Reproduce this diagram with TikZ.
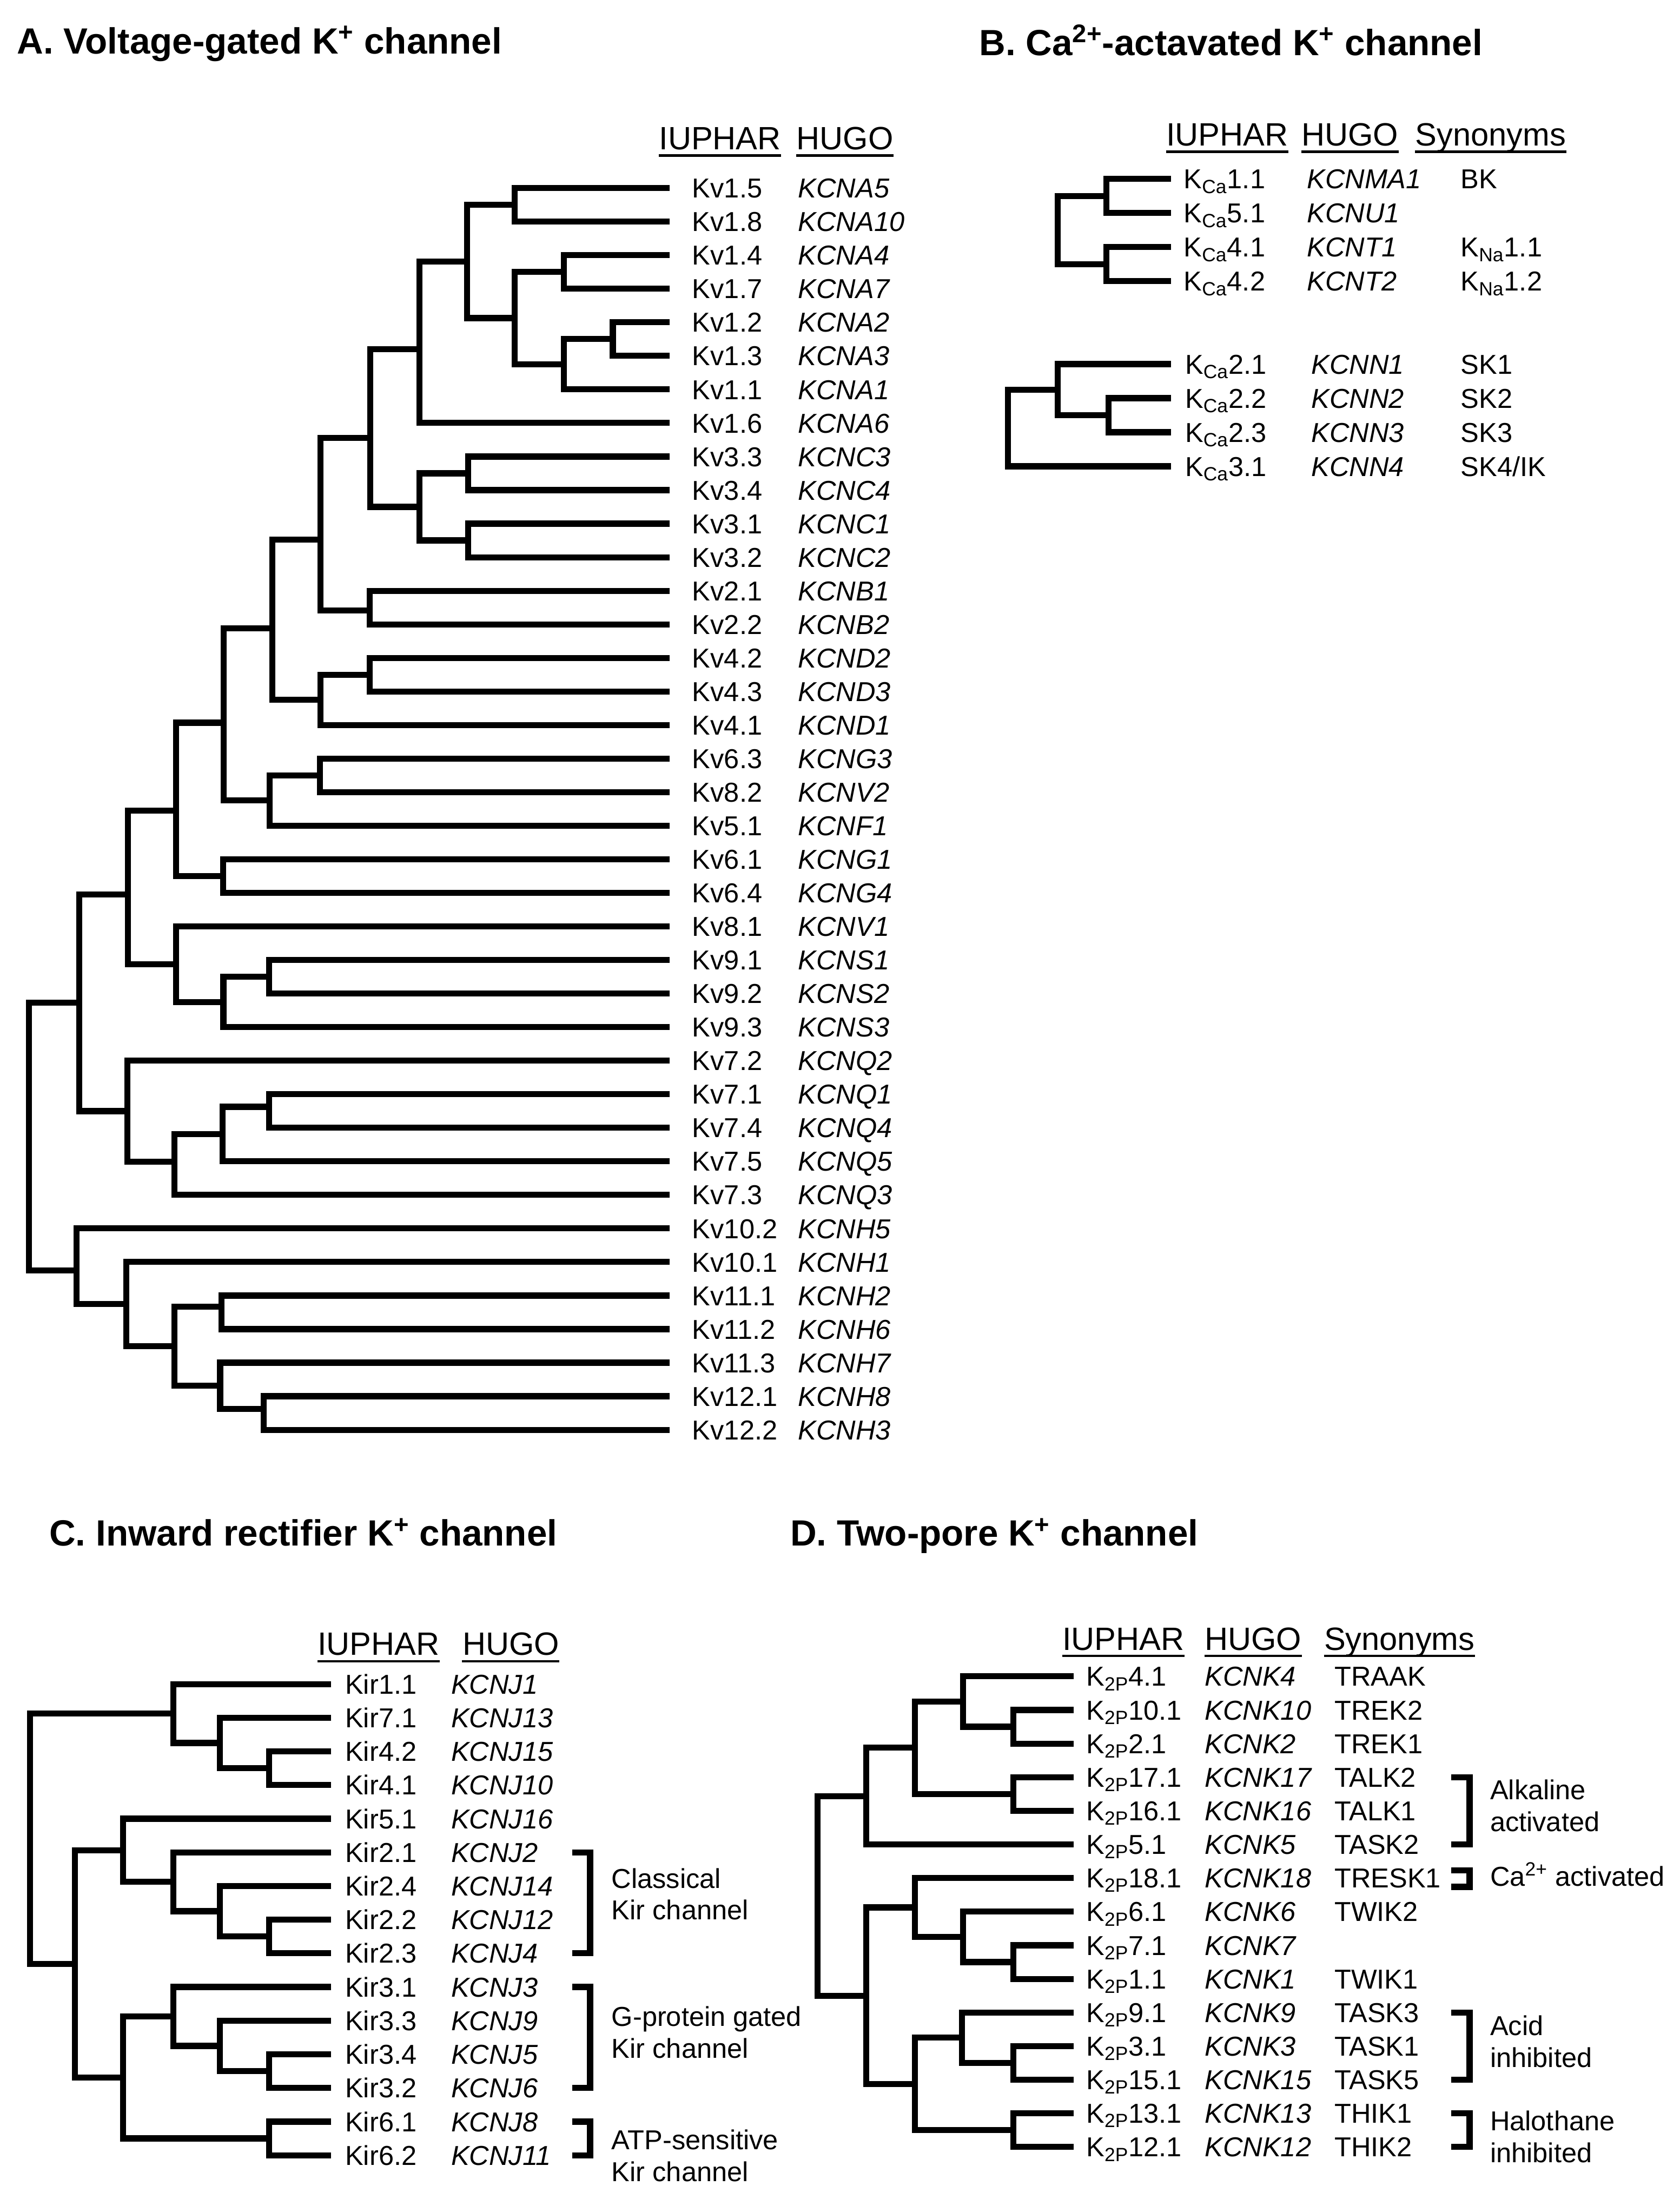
\documentclass[tikz,border=0pt]{standalone}
\usepackage{fontspec}
\setmainfont{Liberation Sans}
\usetikzlibrary{calc}

\tikzset{
  branch/.style={line width=4.3pt},
  brk/.style={line width=4.3pt},
  uline/.style={line width=1.6pt},
  ttl/.style={anchor=base west, inner sep=0pt, font=\fontsize{26}{30}\selectfont\bfseries},
  colhead/.style={anchor=base west, inner sep=0pt, font=\fontsize{23}{27}\selectfont},
  lab/.style={anchor=base west, inner sep=0pt, yshift=-7pt, font=\fontsize{19.5}{22.7}\selectfont},
  gene/.style={lab, font=\fontsize{19.5}{22.7}\selectfont\itshape},
  grp/.style={anchor=west, inner sep=0pt, align=left, font=\fontsize{19.5}{22.7}\selectfont}
}

% junction of a dendrogram: [shift down] name, x, upper child, lower child
\newcommand\joinnode[5][0]{%
  \path let \p1=($(#4)!.5!(#5)$) in (#3pt,{\y1-(#1)}) coordinate (#2);
  \draw[branch] (#4) -| (#2) |- (#5);
}

\begin{document}
\begin{tikzpicture}[x=1pt,y=-1pt]
\useasboundingbox (0,0) rectangle (1197.7,1568);

% titles
\node[ttl] (ta) at (12,38.2) {A. Voltage-gated K\textsuperscript{+} channel};
\node[ttl] (tb) at (698.2,39.4) {B. Ca\textsuperscript{2+}-actavated K\textsuperscript{+} channel};
\node[ttl] (tc) at (35,1102.4) {C. Inward rectifier K\textsuperscript{+} channel};
\node[ttl] (td) at (563.4,1102.4) {D. Two-pore K\textsuperscript{+} channel};

% column heads
\node[colhead] (ha1) at (469.8,106.7) {IUPHAR};
\node[colhead] (ha2) at (567.8,106.7) {HUGO};
\node[colhead] (hb1) at (831.5,104) {IUPHAR};
\node[colhead] (hb2) at (928,104) {HUGO};
\node[colhead] (hb3) at (1009.2,104) {Synonyms};
\node[colhead] (hc1) at (226.3,1180.3) {IUPHAR};
\node[colhead] (hc2) at (329.6,1180.3) {HUGO};
\node[colhead] (hd1) at (757.4,1176.5) {IUPHAR};
\node[colhead] (hd2) at (858.9,1176.5) {HUGO};
\node[colhead] (hd3) at (944.1,1176.5) {Synonyms};
\foreach \h in {ha1,ha2,hb1,hb2,hb3,hc1,hc2,hd1,hd2,hd3}
  \draw[uline] ([yshift=-4.2pt]\h.base west) -- ([yshift=-4.2pt]\h.base east);

% A. voltage-gated
\foreach \iu/\hg [count=\i from 0] in {Kv1.5/KCNA5, Kv1.8/KCNA10, Kv1.4/KCNA4,
  Kv1.7/KCNA7, Kv1.2/KCNA2, Kv1.3/KCNA3, Kv1.1/KCNA1, Kv1.6/KCNA6, Kv3.3/KCNC3,
  Kv3.4/KCNC4, Kv3.1/KCNC1, Kv3.2/KCNC2, Kv2.1/KCNB1, Kv2.2/KCNB2, Kv4.2/KCND2,
  Kv4.3/KCND3, Kv4.1/KCND1, Kv6.3/KCNG3, Kv8.2/KCNV2, Kv5.1/KCNF1, Kv6.1/KCNG1,
  Kv6.4/KCNG4, Kv8.1/KCNV1, Kv9.1/KCNS1, Kv9.2/KCNS2, Kv9.3/KCNS3, Kv7.2/KCNQ2,
  Kv7.1/KCNQ1, Kv7.4/KCNQ4, Kv7.5/KCNQ5, Kv7.3/KCNQ3, Kv10.2/KCNH5, Kv10.1/KCNH1,
  Kv11.1/KCNH2, Kv11.2/KCNH6, Kv11.3/KCNH7, Kv12.1/KCNH8, Kv12.2/KCNH3}
{
  \coordinate (a\i) at (477.5,134.1+23.93*\i);
  \node[lab] (aiu\i) at (493.5,134.1+23.93*\i) {\iu};
  \node[gene] (ahg\i) at (569,134.1+23.93*\i) {\hg};
}
\joinnode{ja1}{367}{a0}{a1}
\joinnode{ja2}{402}{a2}{a3}
\joinnode{ja3}{437}{a4}{a5}
\joinnode{ja4}{402}{ja3}{a6}
\joinnode{ja5}{367}{ja2}{ja4}
\joinnode{ja6}{333}{ja1}{ja5}
\joinnode[5]{ja7}{299}{ja6}{a7}
\joinnode{ja8}{334}{a8}{a9}
\joinnode{ja9}{334}{a10}{a11}
\joinnode{ja10}{299}{ja8}{ja9}
\joinnode[7]{ja11}{264}{ja7}{ja10}
\joinnode[2]{ja12}{263.5}{a12}{a13}
\joinnode[11]{ja13}{228.5}{ja11}{ja12}
\joinnode{ja14}{263.5}{a14}{a15}
\joinnode{ja15}{228.5}{ja14}{a16}
\joinnode[6]{ja16}{194.3}{ja13}{ja15}
\joinnode{ja17}{228}{a17}{a18}
\joinnode{ja18}{192.4}{ja17}{a19}
\joinnode[6]{ja19}{159.5}{ja16}{ja18}
\joinnode{ja20}{159}{a20}{a21}
\joinnode[8]{ja21}{125.7}{ja19}{ja20}
\joinnode{ja22}{192}{a23}{a24}
\joinnode{ja23}{159.3}{ja22}{a25}
\joinnode{ja24}{125.4}{a22}{ja23}
\joinnode[5]{ja25}{91.3}{ja21}{ja24}
\joinnode[-3]{ja26}{191.8}{a27}{a28}
\joinnode{ja27}{158.8}{ja26}{a29}
\joinnode[-2]{ja28}{124.5}{ja27}{a30}
\joinnode{ja29}{91}{a26}{ja28}
\joinnode{ja30}{56.6}{ja25}{ja29}
\joinnode[-4]{ja31}{158}{a33}{a34}
\joinnode[-3]{ja32}{188}{a36}{a37}
\joinnode{ja33}{157}{a35}{ja32}
\joinnode{ja34}{124.5}{ja31}{ja33}
\joinnode{ja35}{90}{a32}{ja34}
\joinnode[3]{ja36}{54.5}{a31}{ja35}
\joinnode{ja37}{20.7}{ja30}{ja36}

% B. Ca-activated
\foreach \iu/\hg/\sy [count=\i from 0] in {1.1/KCNMA1/BK, 5.1/KCNU1/{},
  4.1/KCNT1/K\textsubscript{Na}1.1, 4.2/KCNT2/K\textsubscript{Na}1.2}
{
  \coordinate (b\i) at (835,127.6+24.3*\i);
  \node[lab] (biu\i) at (844,127.6+24.3*\i) {K\textsubscript{Ca}\iu};
  \node[gene] (bhg\i) at (932,127.6+24.3*\i) {\hg};
  \node[lab] (bsy\i) at (1041.5,127.6+24.3*\i) {\sy};
}
\foreach \iu/\hg/\sy [count=\i from 4] in {2.1/KCNN1/SK1, 2.2/KCNN2/SK2,
  2.3/KCNN3/SK3, 3.1/KCNN4/{SK4/IK}}
{
  \coordinate (b\i) at (835,259.6+24.3*\i-97.2);
  \node[lab] (biu\i) at (845,259.6+24.3*\i-97.2) {K\textsubscript{Ca}\iu};
  \node[gene] (bhg\i) at (935,259.6+24.3*\i-97.2) {\hg};
  \node[lab] (bsy\i) at (1041.5,259.6+24.3*\i-97.2) {\sy};
}
\joinnode{jb1}{789}{b0}{b1}
\joinnode{jb2}{789}{b2}{b3}
\joinnode{jb3}{754.4}{jb1}{jb2}
\joinnode{jb4}{790.7}{b5}{b6}
\joinnode{jb5}{754.4}{b4}{jb4}
\joinnode{jb6}{718.8}{jb5}{b7}

% C. inward rectifier
\foreach \iu/\hg [count=\i from 0] in {Kir1.1/KCNJ1, Kir7.1/KCNJ13, Kir4.2/KCNJ15,
  Kir4.1/KCNJ10, Kir5.1/KCNJ16, Kir2.1/KCNJ2, Kir2.4/KCNJ14, Kir2.2/KCNJ12,
  Kir2.3/KCNJ4, Kir3.1/KCNJ3, Kir3.3/KCNJ9, Kir3.4/KCNJ5, Kir3.2/KCNJ6,
  Kir6.1/KCNJ8, Kir6.2/KCNJ11}
{
  \coordinate (c\i) at (236.2,1200.8+24*\i);
  \node[lab] (ciu\i) at (246,1200.8+24*\i) {\iu};
  \node[gene] (chg\i) at (321.5,1200.8+24*\i) {\hg};
}
\joinnode{jc1}{192}{c2}{c3}
\joinnode{jc2}{156.9}{c1}{jc1}
\joinnode{jc3}{123.6}{c0}{jc2}
\joinnode{jc4}{192}{c7}{c8}
\joinnode{jc5}{156.9}{c6}{jc4}
\joinnode{jc6}{123.6}{c5}{jc5}
\joinnode{jc7}{87.8}{c4}{jc6}
\joinnode{jc8}{192}{c11}{c12}
\joinnode{jc9}{156.9}{c10}{jc8}
\joinnode{jc10}{123.6}{c9}{jc9}
\joinnode{jc11}{192}{c13}{c14}
\joinnode{jc12}{87.8}{jc10}{jc11}
\joinnode{jc13}{53.5}{jc7}{jc12}
\joinnode{jc14}{21.4}{jc3}{jc13}
\draw[brk] (408,1320.8) -- (420.8,1320.8) -- (420.8,1392.8) -- (408,1392.8);
\draw[brk] (408,1416.8) -- (420.8,1416.8) -- (420.8,1488.8) -- (408,1488.8);
\draw[brk] (408,1512.8) -- (420.8,1512.8) -- (420.8,1536.8) -- (408,1536.8);
\node[grp] (gc1) at (436,1350.6) {Classical\\Kir channel};
\node[grp] (gc2) at (436,1449.3) {G-protein gated\\Kir channel};
\node[grp] (gc3) at (436,1537) {ATP-sensitive\\Kir channel};

% D. two-pore
\foreach \iu/\hg/\sy [count=\i from 0] in {4.1/KCNK4/TRAAK, 10.1/KCNK10/TREK2,
  2.1/KCNK2/TREK1, 17.1/KCNK17/TALK2, 16.1/KCNK16/TALK1, 5.1/KCNK5/TASK2,
  18.1/KCNK18/TRESK1, 6.1/KCNK6/TWIK2, 7.1/KCNK7/{}, 1.1/KCNK1/TWIK1,
  9.1/KCNK9/TASK3, 3.1/KCNK3/TASK1, 15.1/KCNK15/TASK5, 13.1/KCNK13/THIK1,
  12.1/KCNK12/THIK2}
{
  \coordinate (d\i) at (765.8,1195.3+23.97*\i);
  \node[lab] (diu\i) at (774.5,1195.3+23.97*\i) {K\textsubscript{2P}\iu};
  \node[gene] (dhg\i) at (859,1195.3+23.97*\i) {\hg};
  \node[lab] (dsy\i) at (951.5,1195.3+23.97*\i) {\sy};
}
\joinnode{jd1}{722.6}{d1}{d2}
\joinnode{jd2}{686.9}{d0}{jd1}
\joinnode{jd3}{722.6}{d3}{d4}
\joinnode{jd4}{652.5}{jd2}{jd3}
\joinnode{jd5}{617.7}{jd4}{d5}
\joinnode{jd6}{722.6}{d8}{d9}
\joinnode{jd7}{686.9}{d7}{jd6}
\joinnode{jd8}{652.5}{d6}{jd7}
\joinnode{jd9}{722.6}{d11}{d12}
\joinnode{jd10}{686.1}{d10}{jd9}
\joinnode{jd11}{722.6}{d13}{d14}
\joinnode{jd12}{652.5}{jd10}{jd11}
\joinnode{jd13}{617.7}{jd8}{jd12}
\joinnode{jd14}{582.9}{jd5}{jd13}
\draw[brk] (1035,1267.2) -- (1048,1267.2) -- (1048,1315.2) -- (1035,1315.2);
\draw[brk] (1035,1333.6) -- (1048,1333.6) -- (1048,1345.4) -- (1035,1345.4);
\draw[brk] (1035,1435) -- (1048,1435) -- (1048,1483) -- (1035,1483);
\draw[brk] (1035,1506.9) -- (1048,1506.9) -- (1048,1530.9) -- (1035,1530.9);
\node[grp] (gd1) at (1062.5,1287.5) {Alkaline\\activated};
\node[grp, anchor=base west] (gd2) at (1062.5,1345) {Ca\textsuperscript{2+} activated};
\node[grp] (gd3) at (1062.5,1455.8) {Acid\\inhibited};
\node[grp] (gd4) at (1062.5,1523.7) {Halothane\\inhibited};
\end{tikzpicture}
\end{document}
